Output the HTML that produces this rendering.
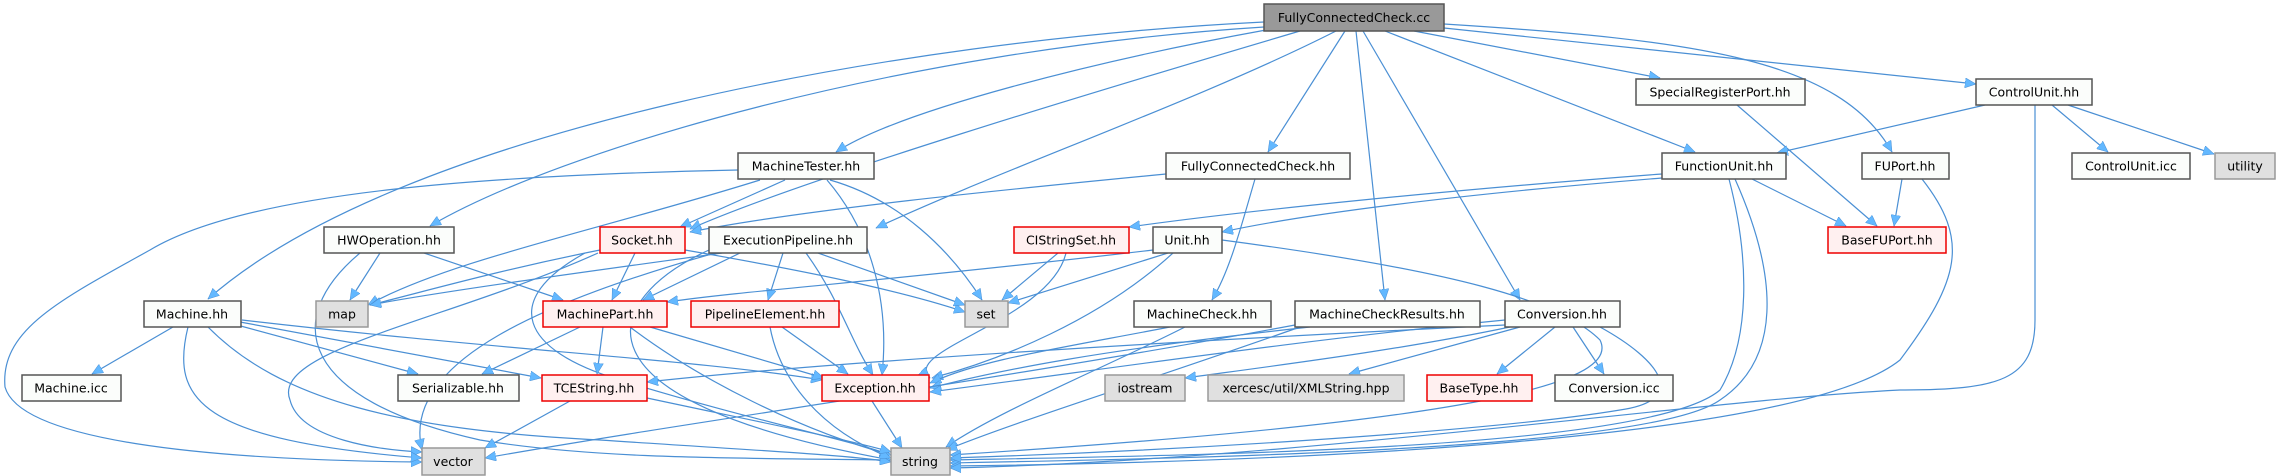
<!DOCTYPE html>
<html><head><meta charset="utf-8"><style>
html,body{margin:0;padding:0;background:#fff;width:2282px;height:476px;overflow:hidden}
svg{display:block}
text{font-family:"DejaVu Sans","Liberation Sans",sans-serif;font-size:12.5px;fill:#000;text-anchor:middle;dominant-baseline:central}
.e{fill:none;stroke:#4a8fd4;stroke-width:1.2}
.w{fill:#fbfdfb;stroke:#555;stroke-width:1.5}
.g{fill:#e0e0e0;stroke:#999;stroke-width:1.5}
.r{fill:#fff0f0;stroke:#e00;stroke-width:1.5}
.root{fill:#999;stroke:#555;stroke-width:1.5}
</style></head><body>
<svg width="2282" height="476" viewBox="0 0 2282 476">
<defs><marker id="a" markerUnits="userSpaceOnUse" markerWidth="12" markerHeight="10" refX="11" refY="5" orient="auto"><path d="M0,0 L11,5 L0,10 z" fill="#63b8ff" stroke="#4a8fd4" stroke-width="0.5"/></marker></defs>
<g marker-end="url(#a)">
<!-- from root -->
<path class="e" d="M1264,22 C900,40 400,130 208,299"/>
<path class="e" d="M1264,27 C900,50 560,150 430,226"/>
<path class="e" d="M1266,30 C1100,60 900,110 836,152"/>
<path class="e" d="M1300,31 C1100,90 800,180 690,229"/>
<path class="e" d="M1336,31 C1200,100 1000,170 876,228"/>
<path class="e" d="M1345,31 L1268,152"/>
<path class="e" d="M1356,31 L1385,300"/>
<path class="e" d="M1363,31 L1520,300"/>
<path class="e" d="M1385,31 L1695,152"/>
<path class="e" d="M1414,31 L1660,78"/>
<path class="e" d="M1444,24 C1700,40 1840,60 1892,152"/>
<path class="e" d="M1444,28 L1976,84"/>
<!-- MachineTester -->
<path class="e" d="M738,170 C500,175 250,190 150,250 C60,300 0,330 5,387 C20,440 200,460 422,462"/>
<path class="e" d="M760,180 C600,230 450,260 368,305"/>
<path class="e" d="M785,180 L680,227"/>
<path class="e" d="M830,180 C900,200 950,250 982,300"/>
<path class="e" d="M827,180 C870,230 890,300 882,375"/>
<!-- FullyConnectedCheck.hh -->
<path class="e" d="M1166,174 C1000,190 800,210 690,232"/>
<path class="e" d="M1255,179 C1240,230 1230,270 1212,300"/>
<!-- HWOperation -->
<path class="e" d="M380,253 L350,300"/>
<path class="e" d="M424,253 L563,300"/>
<path class="e" d="M360,253 C280,320 300,400 480,440 C600,460 750,458 891,460"/>
<!-- Socket -->
<path class="e" d="M600,250 C500,270 430,290 370,305"/>
<path class="e" d="M635,253 L612,300"/>
<path class="e" d="M685,250 C800,270 900,290 965,312"/>
<path class="e" d="M598,253 C450,320 270,350 290,400 C300,440 380,450 422,452"/>
<path class="e" d="M585,253 C500,300 520,350 620,380 C750,420 850,440 891,455"/>
<!-- ExecutionPipeline -->
<path class="e" d="M722,253 C600,270 450,290 370,305"/>
<path class="e" d="M740,253 L643,300"/>
<path class="e" d="M783,253 L768,300"/>
<path class="e" d="M818,253 L965,305"/>
<path class="e" d="M806,253 C840,300 850,340 873,375"/>
<path class="e" d="M715,253 C550,300 400,360 422,450"/>
<path class="e" d="M709,250 C600,300 560,400 891,460"/>
<!-- CIStringSet -->
<path class="e" d="M1058,253 L1002,300"/>
<path class="e" d="M1066,253 C1050,320 900,350 930,378"/>
<!-- Unit -->
<path class="e" d="M1153,250 C900,280 750,290 667,302"/>
<path class="e" d="M1168,253 L1008,303"/>
<path class="e" d="M1173,253 C1100,320 1000,360 932,378"/>
<path class="e" d="M1222,240 C1450,270 1560,300 1600,340 C1620,380 1500,420 950,455"/>
<!-- FunctionUnit -->
<path class="e" d="M1662,174 C1450,190 1250,210 1129,227"/>
<path class="e" d="M1662,178 C1450,195 1300,215 1222,232"/>
<path class="e" d="M1752,179 L1846,226"/>
<path class="e" d="M1729,179 C1750,260 1750,340 1720,390 C1650,450 1200,455 950,460"/>
<path class="e" d="M1735,179 C1780,280 1780,360 1720,400 C1650,450 1200,458 950,463"/>
<!-- FUPort -->
<path class="e" d="M1902,179 L1894,226"/>
<path class="e" d="M1922,179 C1970,240 1960,280 1900,360 C1800,440 1300,462 950,466"/>
<!-- SRP -->
<path class="e" d="M1737,105 L1877,226"/>
<!-- ControlUnit -->
<path class="e" d="M1985,105 L1777,153"/>
<path class="e" d="M2052,105 L2108,152"/>
<path class="e" d="M2068,105 L2214,154"/>
<path class="e" d="M2035,105 L2035,320 C2035,380 2000,390 1900,390 C1700,400 1300,460 950,468"/>
<!-- Machine.hh -->
<path class="e" d="M173,327 L92,374"/>
<path class="e" d="M237,325 L418,374"/>
<path class="e" d="M240,322 L541,378"/>
<path class="e" d="M242,320 C500,350 700,360 822,380"/>
<path class="e" d="M188,327 C170,400 200,440 422,458"/>
<path class="e" d="M208,327 C280,400 400,430 600,440 C750,450 850,455 891,462"/>
<!-- MachinePart -->
<path class="e" d="M580,327 L482,374"/>
<path class="e" d="M603,327 L597,374"/>
<path class="e" d="M650,327 L824,378"/>
<path class="e" d="M630,327 C700,380 800,430 891,455"/>
<!-- PipelineElement -->
<path class="e" d="M782,327 L848,374"/>
<path class="e" d="M770,327 C780,380 820,430 891,458"/>
<!-- MachineCheck -->
<path class="e" d="M1170,327 C1050,350 980,360 930,383"/>
<path class="e" d="M1185,327 C1100,370 1000,410 946,447"/>
<!-- MachineCheckResults -->
<path class="e" d="M1310,327 C1100,350 1000,370 930,388"/>
<path class="e" d="M1300,327 C1150,380 1020,420 946,450"/>
<path class="e" d="M1295,325 C1000,380 700,420 485,458"/>
<!-- Conversion -->
<path class="e" d="M1505,320 C1300,340 1100,370 930,392"/>
<path class="e" d="M1510,327 C1400,350 1280,365 1185,378"/>
<path class="e" d="M1520,327 L1349,374"/>
<path class="e" d="M1555,327 L1497,374"/>
<path class="e" d="M1573,327 L1604,374"/>
<path class="e" d="M1505,325 C1200,340 850,360 647,382"/>
<path class="e" d="M1600,327 C1660,360 1690,400 1620,410 C1500,430 1200,450 950,458"/>
<!-- TCEString -->
<path class="e" d="M570,401 L485,448"/>
<path class="e" d="M647,398 C750,420 850,440 891,452"/>
<!-- Exception -->
<path class="e" d="M872,401 L902,448"/>
</g>
<!-- nodes -->
<rect class="root" x="1264" y="4" width="180" height="27"/><text x="1354" y="17.5">FullyConnectedCheck.cc</text>
<rect class="w" x="1636" y="79" width="169" height="26"/><text x="1720" y="92">SpecialRegisterPort.hh</text>
<rect class="w" x="1976" y="79" width="116" height="26"/><text x="2034" y="92">ControlUnit.hh</text>
<rect class="w" x="738" y="153" width="136" height="26"/><text x="806" y="166">MachineTester.hh</text>
<rect class="w" x="1166" y="153" width="184" height="26"/><text x="1258" y="166">FullyConnectedCheck.hh</text>
<rect class="w" x="1662" y="153" width="124" height="26"/><text x="1724" y="166">FunctionUnit.hh</text>
<rect class="w" x="1862" y="153" width="87" height="26"/><text x="1905" y="166">FUPort.hh</text>
<rect class="w" x="2072" y="153" width="118" height="26"/><text x="2131" y="166">ControlUnit.icc</text>
<rect class="g" x="2215" y="153" width="60" height="26"/><text x="2245" y="166">utility</text>
<rect class="w" x="324" y="227" width="130" height="26"/><text x="389" y="240">HWOperation.hh</text>
<rect class="r" x="600" y="227" width="85" height="26"/><text x="642" y="240">Socket.hh</text>
<rect class="w" x="709" y="227" width="158" height="26"/><text x="788" y="240">ExecutionPipeline.hh</text>
<rect class="r" x="1014" y="227" width="115" height="26"/><text x="1071" y="240">CIStringSet.hh</text>
<rect class="w" x="1153" y="227" width="69" height="26"/><text x="1187" y="240">Unit.hh</text>
<rect class="r" x="1828" y="227" width="118" height="26"/><text x="1887" y="240">BaseFUPort.hh</text>
<rect class="w" x="144" y="301" width="97" height="26"/><text x="192" y="314">Machine.hh</text>
<rect class="g" x="316" y="301" width="52" height="26"/><text x="342" y="314">map</text>
<rect class="r" x="543" y="301" width="124" height="26"/><text x="605" y="314">MachinePart.hh</text>
<rect class="r" x="691" y="301" width="148" height="26"/><text x="765" y="314">PipelineElement.hh</text>
<rect class="g" x="965" y="301" width="43" height="26"/><text x="986" y="314">set</text>
<rect class="w" x="1134" y="301" width="137" height="26"/><text x="1202" y="314">MachineCheck.hh</text>
<rect class="w" x="1295" y="301" width="185" height="26"/><text x="1387" y="314">MachineCheckResults.hh</text>
<rect class="w" x="1505" y="301" width="115" height="26"/><text x="1562" y="314">Conversion.hh</text>
<rect class="w" x="22" y="375" width="99" height="26"/><text x="71" y="388">Machine.icc</text>
<rect class="w" x="398" y="375" width="121" height="26"/><text x="458" y="388">Serializable.hh</text>
<rect class="r" x="542" y="375" width="105" height="26"/><text x="594" y="388">TCEString.hh</text>
<rect class="r" x="822" y="375" width="107" height="26"/><text x="875" y="388">Exception.hh</text>
<rect class="g" x="1105" y="375" width="80" height="26"/><text x="1145" y="388">iostream</text>
<rect class="g" x="1208" y="375" width="196" height="26"/><text x="1306" y="388">xercesc/util/XMLString.hpp</text>
<rect class="r" x="1427" y="375" width="105" height="26"/><text x="1479" y="388">BaseType.hh</text>
<rect class="w" x="1555" y="375" width="118" height="26"/><text x="1614" y="388">Conversion.icc</text>
<rect class="g" x="422" y="448" width="63" height="27"/><text x="453" y="461.5">vector</text>
<rect class="g" x="891" y="448" width="59" height="27"/><text x="920" y="461.5">string</text>
</svg>
</body></html>
